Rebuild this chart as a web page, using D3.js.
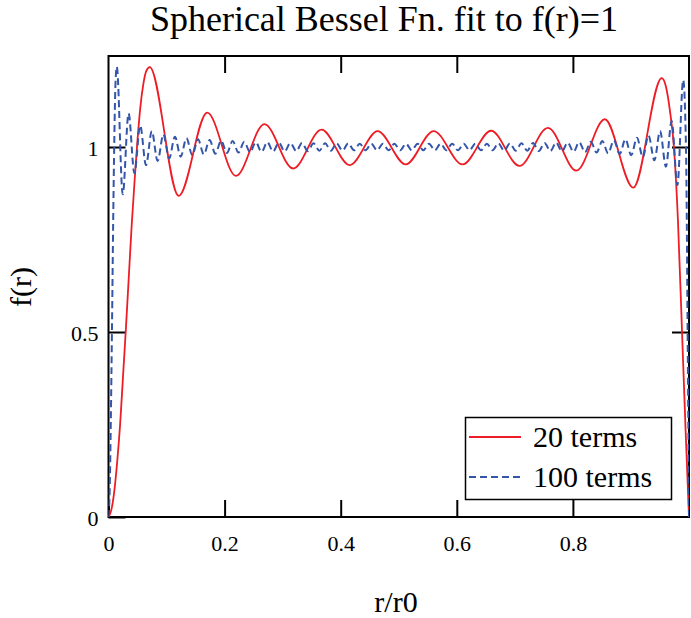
<!DOCTYPE html>
<html>
<head>
<meta charset="utf-8">
<script src="https://cdn.jsdelivr.net/npm/d3@7"></script>
</head>
<body style="margin:0; background:#fff;">
<svg id="chart" style="display:block;"></svg>
<script>
//Data (r/r0 and f(r) at peaks, troughs and along the steep edges)
const seriesNames = ["20 terms", "100 terms"];

const r20 = [0, 0.005, 0.010, 0.015, 0.020, 0.025, 0.030, 0.035, 0.040, 0.045, 0.050, 0.055, 0.060, 0.065,
  0.071, 0.121, 0.170, 0.2195, 0.2685, 0.318, 0.367, 0.4155, 0.4636, 0.512, 0.560, 0.610, 0.659, 0.708,
  0.757, 0.806, 0.855, 0.904, 0.953, 0.960, 0.967, 0.974, 0.981, 0.988, 0.994, 1.0];
const f20 = [0, 0.02, 0.07, 0.15, 0.25, 0.38, 0.51, 0.65, 0.79, 0.91, 1.02, 1.11, 1.17, 1.205,
  1.216, 0.868, 1.093, 0.922, 1.062, 0.942, 1.047, 0.951, 1.043, 0.953, 1.043, 0.953, 1.044, 0.949,
  1.052, 0.936, 1.075, 0.890, 1.186, 1.165, 1.10, 1.0, 0.80, 0.50, 0.24, 0];

const r100 = [0, 0.002, 0.004, 0.006, 0.008, 0.010, 0.012,
  0.0143, 0.0245, 0.0346, 0.0446, 0.0546, 0.0646, 0.0746, 0.0846, 0.0945, 0.1045,
  0.1144, 0.1244, 0.1343, 0.1443, 0.1542, 0.1642, 0.1741, 0.1841, 0.1940, 0.2040,
  0.2139, 0.2239, 0.2338, 0.2438, 0.2537, 0.2637, 0.2736, 0.2836, 0.2935, 0.3035,
  0.3134, 0.3234, 0.3333, 0.3433, 0.3532, 0.3632, 0.3731, 0.3831, 0.3930, 0.4030,
  0.4129, 0.4229, 0.4328, 0.4428, 0.4527, 0.4627, 0.4726, 0.4826, 0.4925, 0.5025,
  0.5124, 0.5224, 0.5323, 0.5423, 0.5522, 0.5622, 0.5721, 0.5821, 0.5920, 0.6020,
  0.6119, 0.6219, 0.6318, 0.6418, 0.6517, 0.6617, 0.6716, 0.6816, 0.6915, 0.7015,
  0.7114, 0.7214, 0.7313, 0.7413, 0.7512, 0.7612, 0.7711, 0.7811, 0.7910, 0.8010,
  0.8109, 0.8209, 0.8308, 0.8408, 0.8507, 0.8607, 0.8706, 0.8806, 0.8905, 0.9005,
  0.9104, 0.9204, 0.9303, 0.9403, 0.9502, 0.9602, 0.9701, 0.9801, 0.9900,
  0.9948, 0.9962, 0.9976, 0.9990, 1.0];
const f100 = [0, 0.07, 0.26, 0.51, 0.79, 1.02, 1.17,
  1.217, 0.872, 1.091, 0.929, 1.058, 0.951, 1.043, 0.962, 1.034, 0.969,
  1.028, 0.974, 1.024, 0.978, 1.021, 0.980, 1.019, 0.982, 1.017, 0.984,
  1.016, 0.985, 1.014, 0.986, 1.013, 0.987, 1.013, 0.988, 1.012, 0.988,
  1.011, 0.989, 1.011, 0.989, 1.010, 0.990, 1.010, 0.990, 1.010, 0.990,
  1.010, 0.991, 1.009, 0.991, 1.009, 0.991, 1.009, 0.991, 1.009, 0.991,
  1.009, 0.991, 1.009, 0.991, 1.009, 0.991, 1.009, 0.991, 1.009, 0.991,
  1.009, 0.991, 1.009, 0.991, 1.009, 0.991, 1.010, 0.990, 1.010, 0.990,
  1.010, 0.990, 1.011, 0.989, 1.011, 0.989, 1.012, 0.988, 1.012, 0.987,
  1.013, 0.986, 1.014, 0.985, 1.016, 0.983, 1.018, 0.981, 1.021, 0.978,
  1.025, 0.973, 1.031, 0.964, 1.043, 0.947, 1.070, 0.897, 1.181,
  1.0, 0.80, 0.50, 0.22, 0];

const xTicks = [0, 0.2, 0.4, 0.6, 0.8];
const yTicks = [0, 0.5, 1];

//Chart Setup
const w = 691;
const h = 618;
const plotLeft = 108.5, plotRight = 689, plotTop = 56, plotBottom = 517;
const tickLen = 17;
const serif = "'Liberation Serif', 'Times New Roman', Times, 'DejaVu Serif', serif";

const xScale = d3.scaleLinear().domain([0, 1]).range([plotLeft, plotRight]);
const yScale = d3.scaleLinear().domain([0, 1.246]).range([plotBottom, plotTop]);

const chart = d3.select("#chart")
                .attr("width", w)
                .attr("height", h)
                .attr("font-family", serif);

chart.append("defs").append("clipPath")
     .attr("id", "plotClip")
     .append("rect")
     .attr("x", plotLeft)
     .attr("y", plotTop)
     .attr("width", plotRight - plotLeft)
     .attr("height", plotBottom - plotTop);

//Axes (ticks point inwards on all four sides)
const bottomAxis = chart.append("g")
  .attr("transform", `translate(0, ${plotBottom})`)
  .call(d3.axisBottom(xScale).tickValues(xTicks).tickFormat(d3.format("")).tickSizeInner(-tickLen).tickSizeOuter(0));

const topAxis = chart.append("g")
  .attr("transform", `translate(0, ${plotTop})`)
  .call(d3.axisTop(xScale).tickValues(xTicks.slice(1)).tickFormat("").tickSizeInner(-tickLen).tickSizeOuter(0));

const leftAxis = chart.append("g")
  .attr("transform", `translate(${plotLeft}, 0)`)
  .call(d3.axisLeft(yScale).tickValues(yTicks).tickFormat(d3.format("")).tickSizeInner(-tickLen).tickSizeOuter(0).tickPadding(10));

const rightAxis = chart.append("g")
  .attr("transform", `translate(${plotRight}, 0)`)
  .call(d3.axisRight(yScale).tickValues(yTicks.slice(1)).tickFormat("").tickSizeInner(-tickLen).tickSizeOuter(0));

[bottomAxis, topAxis, leftAxis, rightAxis].forEach(a => {
  a.select(".domain").remove();
  a.attr("font-family", serif).attr("font-size", 22);
  a.selectAll(".tick line").attr("stroke", "#000").attr("stroke-width", 2);
  a.selectAll(".tick text").attr("fill", "#000");
});
bottomAxis.selectAll(".tick text").attr("dy", null).attr("y", 34);
leftAxis.selectAll(".tick text").attr("dy", null).attr("y", 8);

//Frame
chart.append("rect")
     .attr("x", plotLeft)
     .attr("y", plotTop)
     .attr("width", plotRight - plotLeft)
     .attr("height", plotBottom - plotTop)
     .attr("fill", "none")
     .attr("stroke", "#000")
     .attr("stroke-width", 2);

//Lines
const line = d3.line()
               .x(d => xScale(d[0]))
               .y(d => yScale(d[1]))
               .curve(d3.curveMonotoneX);

const plot = chart.append("g").attr("clip-path", "url(#plotClip)");

plot.append("path")
    .datum(r20.map((r, i) => [r, f20[i]]))
    .attr("d", line)
    .attr("fill", "none")
    .attr("stroke", "#ee1c25")
    .attr("stroke-width", 1.8);

plot.append("path")
    .datum(r100.map((r, i) => [r, f100[i]]))
    .attr("d", line)
    .attr("fill", "none")
    .attr("stroke", "#3355aa")
    .attr("stroke-width", 2)
    .attr("stroke-dasharray", "7,4");

//Labels Setup
chart.append("text")
     .attr("x", 384)
     .attr("y", 31)
     .attr("text-anchor", "middle")
     .attr("font-size", 36)
     .text("Spherical Bessel Fn. fit to f(r)=1");

chart.append("text")
     .attr("x", 396)
     .attr("y", 612)
     .attr("text-anchor", "middle")
     .attr("font-size", 30)
     .text("r/r0");

chart.append("text")
     .attr("transform", "translate(31, 287) rotate(-90)")
     .attr("text-anchor", "middle")
     .attr("font-size", 30)
     .text("f(r)");

//Legend Setup
const legend = chart.append("g");

legend.append("rect")
      .attr("x", 465.5)
      .attr("y", 417.5)
      .attr("width", 206)
      .attr("height", 82)
      .attr("fill", "#fff")
      .attr("stroke", "#000")
      .attr("stroke-width", 1.5);

const legendRows = legend.selectAll(".row")
                         .data(seriesNames)
                         .enter()
                         .append("g")
                         .attr("transform", (d, i) => `translate(469, ${437 + i * 40})`);

legendRows.append("line")
          .attr("x1", 0)
          .attr("x2", 52)
          .attr("stroke", (d, i) => i === 0 ? "#ee1c25" : "#3355aa")
          .attr("stroke-width", (d, i) => i === 0 ? 1.8 : 2)
          .attr("stroke-dasharray", (d, i) => i === 0 ? null : "7,4");

legendRows.append("text")
          .attr("x", 64)
          .attr("y", 10)
          .attr("font-size", 30)
          .text(d => d);
</script>
</body>
</html>
